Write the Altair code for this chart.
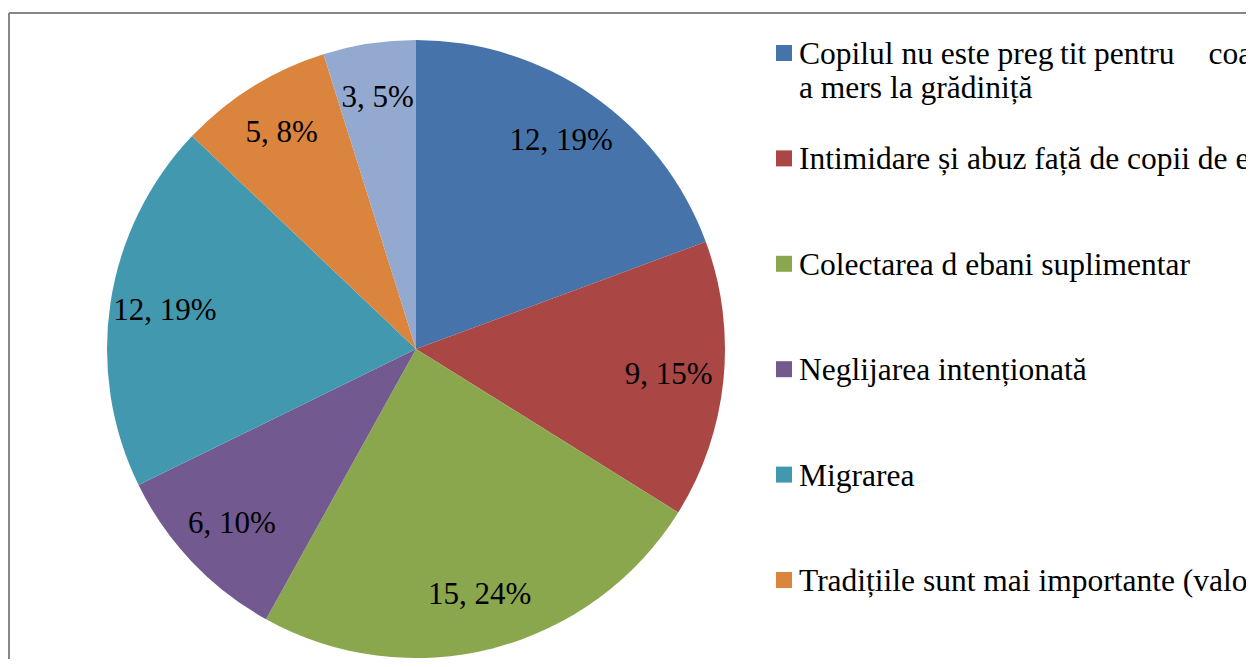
import altair as alt
import pandas as pd

# ---- data ----
categories = [
    "Copilul nu este preg\u2009tit pentru\u2003\u200acoală / nu\na mers la grădiniță",
    "Intimidare și abuz față de copii de etnie romă",
    "Colectarea d ebani suplimentar",
    "Neglijarea intenționată",
    "Migrarea",
    "Tradițiile sunt mai importante (valorile familiei)",
    "Altele",
]
values = [12, 9, 15, 6, 12, 5, 3]
colors = ["#4674AA", "#AA4744", "#8AA74E", "#72598F", "#4299AF", "#DB843D", "#93A9D0"]

total = sum(values)
labels = [f"{v}, {round(v / total * 100)}%" for v in values]

df = pd.DataFrame({
    "cat": categories,
    "value": values,
    "label": labels,
    "idx": list(range(len(values))),
})

FONT = "Liberation Serif"
W, H = 1237, 646
CX, CY = 407, 336

color = alt.Color("cat:N", scale=alt.Scale(domain=categories, range=colors), legend=None)
base = alt.Chart(df)

pie = base.mark_arc(radius=309).encode(
    theta=alt.Theta("value:Q", stack=True),
    color=color,
    order=alt.Order("idx:Q"),
    x=alt.value(CX),
    y=alt.value(CY),
)

pie_labels = base.mark_text(radius=254, font=FONT, fontSize=31, color="black").encode(
    theta=alt.Theta("value:Q", stack=True),
    text="label:N",
    order=alt.Order("idx:Q"),
    x=alt.value(CX),
    y=alt.value(CY),
)

ypos = alt.Y("cat:N", scale=alt.Scale(domain=categories, range=[40, 672.4], padding=0), axis=None)

leg_sq = base.mark_square(size=256, opacity=1).encode(
    x=alt.value(775),
    y=ypos,
    color=color,
)

leg_txt = base.mark_text(
    align="left", baseline="top", dy=-14, font=FONT, fontSize=31.5,
    color="black", lineBreak="\n", lineHeight=34,
).encode(
    x=alt.value(790),
    y=ypos,
    text="cat:N",
)

# outer frame (only top and left edges are visible in the reference)
frame_top = alt.Chart(pd.DataFrame({"k": [0]})).mark_rule(color="#878787", strokeWidth=2).encode(
    x=alt.value(0), x2=alt.value(W), y=alt.value(0)
)
frame_left = alt.Chart(pd.DataFrame({"k": [0]})).mark_rule(color="#878787", strokeWidth=2).encode(
    x=alt.value(0), y=alt.value(0), y2=alt.value(H)
)

chart = alt.layer(frame_top, frame_left, pie, pie_labels, leg_sq, leg_txt).properties(
    width=W,
    height=H,
    autosize=alt.AutoSizeParams(type="none"),
    padding={"left": 1, "top": 5, "right": 0, "bottom": 0},
    background="white",
).configure_view(stroke=None)

chart.save("out.html", embed_options={"renderer": "svg", "actions": False})
